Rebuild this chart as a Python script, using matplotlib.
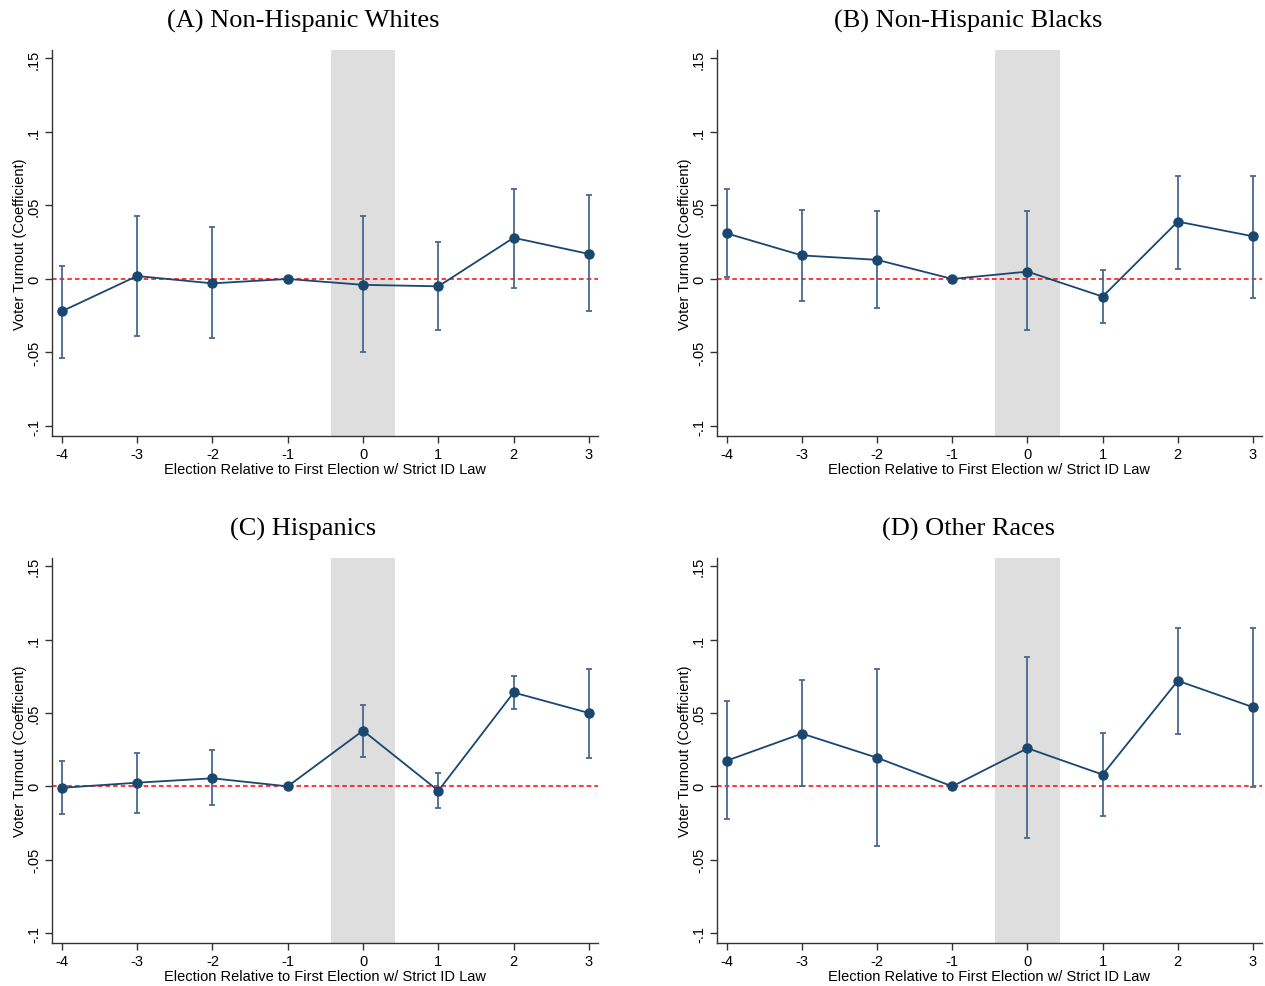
import matplotlib
matplotlib.use("Agg")
import matplotlib.pyplot as plt

# event time relative to first election with strict ID law
periods = [-4, -3, -2, -1, 0, 1, 2, 3]

titles = ["(A) Non-Hispanic Whites", "(B) Non-Hispanic Blacks",
          "(C) Hispanics", "(D) Other Races"]

# coefficients and CI bounds; -1 is the reference period
coef_whites = [-0.022, 0.002, -0.003, 0.0, -0.004, -0.005, 0.028, 0.017]
lo_whites = [-0.054, -0.039, -0.040, None, -0.050, -0.035, -0.006, -0.022]
hi_whites = [0.009, 0.043, 0.035, None, 0.043, 0.025, 0.061, 0.057]

coef_blacks = [0.031, 0.016, 0.013, 0.0, 0.005, -0.012, 0.039, 0.029]
lo_blacks = [0.001, -0.015, -0.020, None, -0.035, -0.030, 0.007, -0.013]
hi_blacks = [0.061, 0.047, 0.046, None, 0.046, 0.006, 0.070, 0.070]

coef_hisp = [-0.001, 0.0025, 0.0055, 0.0, 0.038, -0.003, 0.064, 0.050]
lo_hisp = [-0.019, -0.018, -0.013, None, 0.020, -0.015, 0.053, 0.019]
hi_hisp = [0.017, 0.023, 0.0245, None, 0.0555, 0.009, 0.075, 0.080]

coef_other = [0.0175, 0.036, 0.0195, 0.0, 0.026, 0.008, 0.072, 0.054]
lo_other = [-0.022, 0.0, -0.041, None, -0.035, -0.020, 0.036, -0.0005]
hi_other = [0.058, 0.0725, 0.080, None, 0.088, 0.0365, 0.108, 0.108]

yticks = [-0.1, -0.05, 0, 0.05, 0.1, 0.15]
ytick_labels = ["-.1", "-.05", "0", ".05", ".1", ".15"]

panels = [
    (coef_whites, lo_whites, hi_whites),
    (coef_blacks, lo_blacks, hi_blacks),
    (coef_hisp, lo_hisp, hi_hisp),
    (coef_other, lo_other, hi_other),
]

W, H = 1265, 987
fig = plt.figure(figsize=(W / 100, H / 100), dpi=100)
fig.patch.set_facecolor("white")

# pixel boxes: left, top, right, bottom
boxes = [(52, 51, 598, 437), (717, 51, 1262, 437),
         (52, 559, 598, 944), (717, 559, 1262, 944)]
title_x = [303, 968, 303, 968]

navy = "#1a476f"
capblue = "#46698f"

for i, (coef, lo, hi) in enumerate(panels):
    l, t, r, b = boxes[i]
    ax = fig.add_axes([l / W, 1 - b / H, (r - l) / W, (b - t) / H])
    ax.set_xlim(-4.13, 3.12)
    ax.set_ylim(-0.1068, 0.1557)

    ax.axvspan(-0.43, 0.43, color="#dedede", lw=0, zorder=0)
    ax.axhline(0, color="red", ls=(0, (3, 2)), lw=1.1, zorder=1)

    xs = [p for p, a in zip(periods, lo) if a is not None]
    los = [a for a in lo if a is not None]
    his = [a for a in hi if a is not None]
    ax.vlines(xs, los, his, color=capblue, lw=1.3, zorder=2)
    ax.hlines(los + his, [x - 0.04 for x in xs] * 2, [x + 0.04 for x in xs] * 2,
              color=capblue, lw=1.3, zorder=2)

    ax.plot(periods, coef, color=navy, lw=1.3, marker="o", ms=6.5,
            markerfacecolor=navy, markeredgecolor=navy, zorder=3)

    for s in ["top", "right"]:
        ax.spines[s].set_visible(False)
    for s in ["left", "bottom"]:
        ax.spines[s].set_color("#333333")
        ax.spines[s].set_linewidth(1.0)

    ax.set_xticks(periods)
    ax.set_xticklabels([str(p) for p in periods], fontsize=10.5,
                       family="Liberation Sans")
    ax.set_yticks(yticks)
    ax.set_yticklabels(ytick_labels, fontsize=10.5, family="Liberation Sans",
                       rotation=90, va="center")
    ax.tick_params(direction="out", length=5, width=1.0, color="#333333", pad=3)

    ax.set_xlabel("Election Relative to First Election w/ Strict ID Law",
                  fontsize=10.5, family="Liberation Sans", labelpad=1)
    ax.set_ylabel("Voter Turnout (Coefficient)", fontsize=10.5,
                  family="Liberation Sans", labelpad=0)

    fig.text(title_x[i] / W, 1 - (t - 30) / H, titles[i], ha="center",
             va="center", fontsize=19, family="Liberation Serif")

fig.savefig("out.png", dpi=100, facecolor="white")
